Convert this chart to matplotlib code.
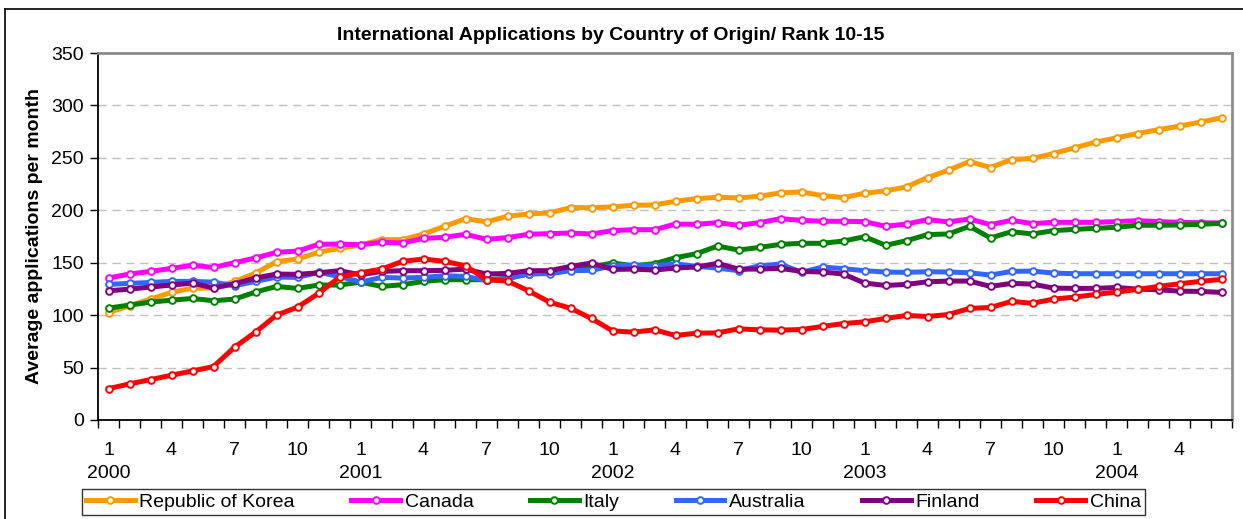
import matplotlib.pyplot as plt
import numpy as np
from matplotlib.lines import Line2D

plt.rcParams['font.family'] = ['Liberation Sans', 'DejaVu Sans']

# Monthly data, Jan 2000 - Jun 2004 (54 months)
korea = [102.5, 108.9, 115.3, 121.7, 125.8, 125.8, 132.2, 140.0, 151.0, 153.5, 160.0,
         163.7, 166.9, 172.0, 172.0, 177.4, 184.7, 192.0, 188.9, 194.3, 196.5, 197.5, 202.5,
         202.5, 203.2, 204.8, 205.1, 208.6, 211.1, 212.4, 211.8, 213.4, 216.6, 217.5,
         214.0, 212.1, 216.2, 218.5, 222.3, 231.2, 238.2, 246.5, 240.8, 248.4, 249.4,
         254.1, 259.6, 265.0, 269.1, 273.2, 276.8, 280.3, 284.1, 288.2]
canada = [135.4, 139.2, 141.7, 144.6, 147.5, 145.5, 150.0, 154.5, 159.9, 161.1, 167.5,
          167.8, 167.2, 169.4, 168.8, 173.2, 174.2, 177.1, 172.3, 173.9, 177.1, 177.7, 178.3,
          177.4, 180.6, 181.5, 181.5, 186.9, 186.6, 188.2, 185.7, 188.2, 192.0, 190.4,
          189.5, 189.5, 189.2, 184.7, 186.9, 191.1, 188.9, 191.7, 186.3, 190.4, 187.3,
          188.5, 188.5, 188.5, 189.2, 190.1, 189.2, 188.5, 188.2, 187.9]
italy = [106.7, 109.6, 112.4, 114.3, 115.9, 113.7, 115.3, 122.0, 127.4, 125.5, 128.7,
         128.7, 131.5, 127.4, 129.0, 132.2, 133.8, 133.8, 133.8, 135.0, 139.2, 140.1, 143.3,
         146.0, 149.7, 147.1, 149.0, 154.8, 158.6, 165.9, 162.1, 164.6, 167.5, 168.5,
         168.5, 170.7, 174.8, 166.6, 171.0, 176.8, 177.4, 184.7, 173.6, 179.6, 177.4,
         180.6, 181.8, 182.8, 183.8, 185.7, 185.7, 186.0, 186.6, 187.6]
australia = [129.3, 130.3, 131.2, 132.2, 132.2, 131.5, 128.0, 132.2, 136.3, 136.0, 140.8,
             136.9, 131.5, 136.0, 135.4, 136.0, 137.6, 136.9, 133.1, 135.0, 139.5, 139.5, 142.4,
             142.7, 147.1, 147.8, 147.1, 149.0, 146.5, 144.9, 142.4, 147.1, 148.7, 140.8,
             145.9, 144.3, 142.4, 141.1, 140.8, 141.4, 141.1, 140.4, 138.2, 141.7, 142.0,
             140.1, 139.5, 139.5, 139.5, 139.5, 139.5, 139.5, 139.5, 139.5]
finland = [123.2, 124.8, 126.8, 128.7, 130.6, 125.8, 129.9, 135.4, 139.2, 138.9, 140.4,
           142.4, 138.5, 141.7, 142.4, 142.4, 142.7, 143.9, 139.2, 139.8, 142.4, 142.4, 146.5,
           149.7, 143.6, 143.9, 143.0, 144.9, 145.9, 149.4, 143.9, 143.9, 144.6, 141.7,
           141.1, 139.2, 130.6, 128.3, 129.3, 131.8, 132.5, 132.5, 127.4, 130.3, 129.6,
           125.8, 125.5, 125.5, 126.4, 124.8, 124.2, 122.9, 122.6, 121.7]
china = [29.9, 34.4, 38.5, 42.7, 46.8, 51.0, 69.4, 83.8, 100.0, 107.6, 120.7,
         136.3, 140.4, 143.9, 151.3, 153.5, 151.3, 147.1, 133.8, 132.5, 123.2, 112.4, 106.6,
         96.8, 85.0, 83.8, 86.0, 80.6, 82.8, 83.1, 86.9, 86.0, 85.7, 86.3,
         89.2, 92.0, 93.6, 96.8, 99.7, 98.7, 100.6, 106.4, 107.3, 113.1, 111.3,
         115.3, 117.2, 119.7, 122.0, 124.5, 127.4, 129.9, 132.2, 134.1]

series = [('Republic of Korea', korea, '#FF9900'),
          ('Canada', canada, '#FF00FF'),
          ('Italy', italy, '#008000'),
          ('Australia', australia, '#3366FF'),
          ('Finland', finland, '#800080'),
          ('China', china, '#FF0000')]

months = [(m % 12) + 1 for m in range(54)]
years = ['2000', '2001', '2002', '2003', '2004']

fig = plt.figure(figsize=(12.43, 5.19), dpi=100)
ax = fig.add_axes([98 / 1243, 1 - 420 / 519, (1232 - 98) / 1243, (420 - 53) / 519])

x = np.arange(len(korea))
handles = []
for name, vals, col in series:
    h, = ax.plot(x, vals, '-o', color=col, linewidth=3.6, markersize=4.8,
                 markerfacecolor='white', markeredgecolor=col, markeredgewidth=1.4,
                 label=name)
    handles.append(h)

# axes styling
ax.set_xlim(-0.5, len(x) - 0.5)
ax.set_ylim(0, 350)
ax.set_yticks(np.arange(0, 351, 50))
for y in range(50, 301, 50):
    ax.axhline(y, color='#C0C0C0', linestyle=(0, (6, 4)), linewidth=1.0, zorder=0)
ax.spines['left'].set_color('black')
ax.spines['bottom'].set_color('black')
ax.spines['left'].set_linewidth(1.3)
ax.spines['bottom'].set_linewidth(1.3)
ax.spines['top'].set_color('#8C8C8C')
ax.spines['right'].set_color('#8C8C8C')
ax.spines['top'].set_linewidth(2)
ax.spines['right'].set_linewidth(2)
ax.tick_params(axis='y', direction='out', length=6, width=1, labelsize=14, pad=4)

# month ticks at category boundaries, labels every 3 months
ax.set_xticks(np.arange(-0.5, len(x) + 0.5, 1))
ax.set_xticklabels([])
ax.tick_params(axis='x', which='major', direction='out', length=6, width=1)
lab_pos = [i for i in x if months[i] in (1, 4, 7, 10)]
ax.set_xticks(lab_pos, minor=True)
ax.set_xticklabels([str(months[i]) for i in lab_pos], minor=True)
ax.tick_params(axis='x', which='minor', length=0, labelsize=14, pad=16)
for k, yr in enumerate(years):
    ax.text(k * 12, -0.145, yr, transform=ax.get_xaxis_transform(),
            ha='center', va='center', fontsize=14)

ax.set_ylabel('Average applications per month', fontsize=14, fontweight='bold', labelpad=6)

fig.text(611 / 1243, 1 - 35 / 519, 'International Applications by Country of Origin/ Rank 10-15',
         ha='center', va='center', fontsize=14, fontweight='bold')

leg = fig.legend(handles=handles, loc='center', bbox_to_anchor=(613.5 / 1243, 1 - 502 / 519),
                 ncol=6, fontsize=14, handlelength=2.5, handletextpad=0.25, columnspacing=2.9,
                 fancybox=False, borderpad=0.2, frameon=True)
leg.get_frame().set_edgecolor('black')
leg.get_frame().set_linewidth(1.0)

# outer chart border
fig.add_artist(Line2D([5 / 1243, 5 / 1243], [0, 1 - 9 / 519], color='black', linewidth=1.2,
                      transform=fig.transFigure))
fig.add_artist(Line2D([5 / 1243, 1], [1 - 9 / 519, 1 - 9 / 519], color='black', linewidth=1.2,
                      transform=fig.transFigure))

fig.savefig('out.png', dpi=100)
